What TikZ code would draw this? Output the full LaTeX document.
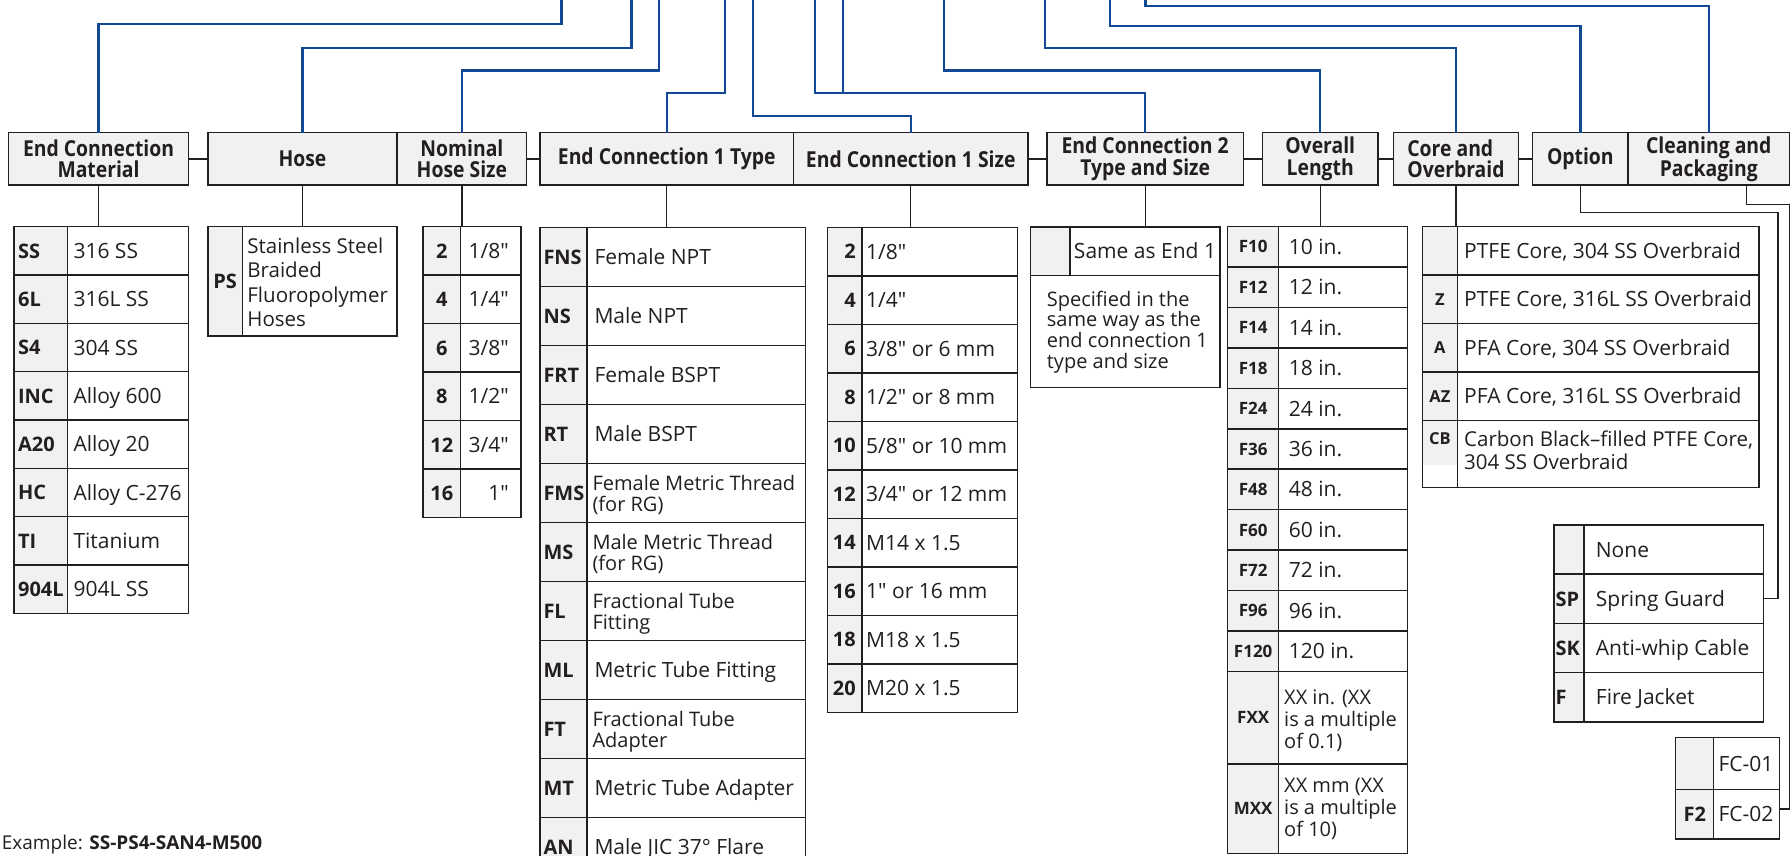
\documentclass[tikz,border=0pt]{standalone}
\usepackage{fontspec}
\setmainfont{Open Sans}[Ligatures=TeXOff]
\newfontfamily\hdrfont{Open Sans}[FakeStretch=0.88, Ligatures=TeXOff]
\definecolor{ink}{RGB}{35,31,32}
\definecolor{pblue}{RGB}{18,72,148}
\definecolor{gfill}{RGB}{241,241,243}
\tikzset{
  hdr/.style={draw=ink, fill=gfill, line width=1.5pt, inner sep=0pt, outer sep=0pt, anchor=north west, align=center, text=ink, minimum height=52.3pt, font=\fontsize{22}{21.6}\selectfont\hdrfont\bfseries},
  tabout/.style={draw=ink, line width=1.5pt, inner sep=0pt, outer sep=0pt, anchor=north west},
  cellbox/.style={draw=ink, line width=1.5pt},
  bl/.style={draw=pblue, line width=2.4pt},
  conn/.style={draw=ink, line width=1.3pt},
  code/.style={inner sep=0pt, text=ink, font=\fontsize{20}{22}\selectfont\bfseries},
  desc/.style={inner sep=0pt, text=ink, font=\fontsize{21}{24}\selectfont},
  descm/.style={inner sep=0pt, text=ink, font=\fontsize{20}{22}\selectfont},
}
\begin{document}
\begin{tikzpicture}[x=1pt,y=-1pt]
\useasboundingbox (0,0) rectangle (1792,855);
\fill[white] (0,0) rectangle (1792,855);
\clip (0,0) rectangle (1792,855);

% ---------- header boxes ----------
\node[hdr, minimum width=180.3pt] (hmat) at (8.4,132.7) {End Connection\\Material};
\node[hdr, minimum width=189.4pt] (hhose) at (207.8,132.7) {Hose};
\node[hdr, minimum width=129.4pt] (hnom) at (397.2,132.7) {Nominal\\Hose Size};
\node[hdr, minimum width=253.5pt] (hect) at (540,132.7) {End Connection 1 Type};
\node[hdr, minimum width=234.5pt] (hecs) at (793.5,132.7) {End Connection 1 Size};
\node[hdr, minimum width=196.4pt] (hec2) at (1047,132.7) {End Connection 2\\Type and Size};
\node[hdr, minimum width=115.6pt] (hlen) at (1262.4,132.7) {Overall\\Length};
\node[hdr, minimum width=124.9pt, align=left] (hcore) at (1393.5,132.7) {Core and\\Overbraid};
\node[hdr, minimum width=95.7pt] (hopt) at (1532.5,132.7) {Option};
\node[hdr, minimum width=161.1pt] (hcln) at (1628.2,132.7) {Cleaning and\\Packaging};

% ---------- blue lines from the part number ----------
\coordinate (p1) at (561.4,-3);
\coordinate (p2) at (631.4,-3);
\coordinate (p3) at (659.2,-3);
\coordinate (p4) at (725.1,-3);
\coordinate (p5) at (752.9,-3);
\coordinate (p6) at (815.1,-3);
\coordinate (p6b) at (842.9,-3);
\coordinate (p7) at (944,-3);
\coordinate (p8) at (1044.8,-3);
\coordinate (p9) at (1109.9,-3);
\coordinate (p10) at (1145.5,-3);
\draw[bl] (p1) -- ++(0,27) -| (hmat.north);
\draw[bl] (p2) -- ++(0,50.7) -| (hhose.north);
\draw[bl] (p3) -- ++(0,73.3) -| (hnom.north);
\draw[bl] (p4) -- ++(0,95.7) -| (hect.north);
\draw[bl] (p5) -- ++(0,119) -| (hecs.north);
\draw[bl] (p6) -- ++(0,95.7) -| (hec2.north);
\draw[bl] (p6b) -- ++(0,95.7);
\draw[bl] (p7) -- ++(0,73.3) -| (hlen.north);
\draw[bl] (p8) -- ++(0,50.7) -| (hcore.north);
\draw[bl] (p9) -- ++(0,29) -| (hopt.north);
\draw[bl] (p10) -- ++(0,9) -| (hcln.north);

% ---------- table: end connection material ----------
\foreach \i/\xc/\xd in {0/SS/316 SS,1/6L/316L SS,2/S4/304 SS,3/INC/Alloy 600,4/A20/Alloy 20,5/HC/Alloy C-276,6/TI/Titanium,7/904L/904L SS}{
  \pgfmathsetmacro\yt{226.7+48.33*\i}
  \pgfmathsetmacro\yb{\yt+48.33}
  \pgfmathsetmacro\ym{\yt+24.17}
  \path[cellbox, fill=gfill] (13.8,\yt) rectangle (67.5,\yb);
  \path[cellbox, fill=white] (67.5,\yt) rectangle (188.7,\yb);
  \node[code, anchor=base west] (matc\i) at (17.9,\ym+7.2) {\xc};
  \node[desc, anchor=base west] (matd\i) at (73.3,\ym+7.5) {\xd};
}
\node[tabout, minimum width=174.9pt, minimum height=386.6pt] (tmat) at (13.8,226.7) {};

% ---------- table: hose ----------
\path[cellbox, fill=gfill] (208,226.7) rectangle (242.4,336);
\path[cellbox, fill=white] (242.4,226.7) rectangle (397,336);
\node[code] (hosc) at (225.2,281.4) {PS};
\foreach \t [count=\k from 0] in {Stainless Steel,Braided,Fluoropolymer,Hoses}{
  \node[desc, font=\fontsize{20.5}{24}\selectfont, anchor=base west] (hosd\k) at (247.2,253.5+24.4*\k) {\t};
}
\node[tabout, minimum width=189pt, minimum height=109.3pt] (thos) at (208,226.7) {};

% ---------- table: nominal hose size ----------
\foreach \i/\xc/\xd in {0/2/{1/8"},1/4/{1/4"},2/6/{3/8"},3/8/{1/2"},4/12/{3/4"},5/16/{1"}}{
  \pgfmathsetmacro\yt{226.7+48.5*\i}
  \pgfmathsetmacro\yb{\yt+48.5}
  \pgfmathsetmacro\ym{\yt+24.25}
  \path[cellbox, fill=gfill] (422.9,\yt) rectangle (460.7,\yb);
  \path[cellbox, fill=white] (460.7,\yt) rectangle (521,\yb);
  \node[code, anchor=base] (nomc\i) at (441.8,\ym+7.2) {\xc};
  \node[desc, anchor=base east] (nomd\i) at (509,\ym+7.5) {\xd};
}
\node[tabout, minimum width=98.1pt, minimum height=291pt] (tnom) at (422.9,226.7) {};

% ---------- table: end connection 1 type ----------
\foreach \i/\xc in {0/FNS,1/NS,2/FRT,3/RT,4/FMS,5/MS,6/FL,7/ML,8/FT,9/MT,10/AN}{
  \pgfmathsetmacro\yt{227.4+59*\i}
  \pgfmathsetmacro\yb{\yt+59}
  \pgfmathsetmacro\ym{\yt+29.5}
  \path[cellbox, fill=gfill] (540,\yt) rectangle (586.8,\yb);
  \path[cellbox, fill=white] (586.8,\yt) rectangle (805.5,\yb);
  \node[code, anchor=base west] (ectc\i) at (543.3,\ym+7.2) {\xc};
}
\foreach \i/\xd in {0/Female NPT,1/Male NPT,2/Female BSPT,3/Male BSPT,7/Metric Tube Fitting,9/Metric Tube Adapter,10/Male JIC 37° Flare}{
  \pgfmathsetmacro\ym{227.4+59*\i+29.5}
  \node[desc, anchor=base west] (ectd\i) at (594.3,\ym+7.5) {\xd};
}
\foreach \i/\xa/\xb in {4/Female Metric Thread/(for RG),5/Male Metric Thread/(for RG),6/Fractional Tube/Fitting,8/Fractional Tube/Adapter}{
  \pgfmathsetmacro\ym{227.4+59*\i+29.5}
  \node[descm, anchor=base west] (ectd\i) at (592.3,\ym-2) {\xa};
  \node[descm, anchor=base west] (ecte\i) at (592.3,\ym+18.5) {\xb};
}
\node[tabout, minimum width=265.5pt, minimum height=649pt] (tect) at (540,227.4) {};

% ---------- table: end connection 1 size ----------
\foreach \i/\xc/\xd in {0/2/{1/8"},1/4/{1/4"},2/6/{3/8" or 6 mm},3/8/{1/2" or 8 mm},4/10/{5/8" or 10 mm},5/12/{3/4" or 12 mm},6/14/{M14 x 1.5},7/16/{1" or 16 mm},8/18/{M18 x 1.5},9/20/{M20 x 1.5}}{
  \pgfmathsetmacro\yt{227.4+48.5*\i}
  \pgfmathsetmacro\yb{\yt+48.5}
  \pgfmathsetmacro\ym{\yt+24.25}
  \path[cellbox, fill=gfill] (827.3,\yt) rectangle (862,\yb);
  \path[cellbox, fill=white] (862,\yt) rectangle (1017.5,\yb);
  \node[code, anchor=base east] (ecsc\i) at (856,\ym+7.2) {\xc};
  \node[desc, anchor=base west] (ecsd\i) at (866,\ym+7.5) {\xd};
}
\node[tabout, minimum width=190.2pt, minimum height=485pt] (tecs) at (827.3,227.4) {};

% ---------- table: end connection 2 ----------
\path[cellbox, fill=gfill] (1030.7,227.2) rectangle (1070,275.5);
\path[cellbox, fill=white] (1070,227.2) rectangle (1220,275.5);
\path[cellbox, fill=white] (1030.7,275.5) rectangle (1220,387.6);
\node[desc, anchor=base] (ec2a) at (1145,258.9) {Same as End 1};
\foreach \t [count=\k from 0] in {Specified in the,same way as the,end connection 1,type and size}{
  \node[descm, anchor=base west] (ec2d\k) at (1046.7,306.1+20.7*\k) {\t};
}
\node[tabout, minimum width=189.3pt, minimum height=160.4pt] (tec2) at (1030.7,227.2) {};

% ---------- table: overall length ----------
\foreach \i/\xc/\xd in {0/F10/10 in.,1/F12/12 in.,2/F14/14 in.,3/F18/18 in.,4/F24/24 in.,5/F36/36 in.,6/F48/48 in.,7/F60/60 in.,8/F72/72 in.,9/F96/96 in.,10/F120/120 in.}{
  \pgfmathsetmacro\yt{226.4+40.47*\i}
  \pgfmathsetmacro\yb{\yt+40.47}
  \pgfmathsetmacro\ym{\yt+20.235}
  \path[cellbox, fill=gfill] (1227.7,\yt) rectangle (1278.7,\yb);
  \path[cellbox, fill=white] (1278.7,\yt) rectangle (1407.7,\yb);
  \node[code, font=\fontsize{17}{19}\selectfont\bfseries, anchor=base] (lenc\i) at (1253.2,\ym+6.1) {\xc};
  \node[desc, anchor=base west] (lend\i) at (1288.7,\ym+7.5) {\xd};
}
\path[cellbox, fill=gfill] (1227.7,671.6) rectangle (1278.7,763.9);
\path[cellbox, fill=white] (1278.7,671.6) rectangle (1407.7,763.9);
\path[cellbox, fill=gfill] (1227.7,763.9) rectangle (1278.7,853.5);
\path[cellbox, fill=white] (1278.7,763.9) rectangle (1407.7,853.5);
\node[code, font=\fontsize{17}{19}\selectfont\bfseries, anchor=base] (lencx) at (1253.2,723.8) {FXX};
\node[code, font=\fontsize{17}{19}\selectfont\bfseries, anchor=base] (lencm) at (1253.2,814.8) {MXX};
\foreach \t [count=\k from 0] in {XX in. (XX,is a multiple,of 0.1)}{
  \node[descm, anchor=base west] (lenx\k) at (1284,704.3+22*\k) {\t};
}
\foreach \t [count=\k from 0] in {XX mm (XX,is a multiple,of 10)}{
  \node[descm, anchor=base west] (lenm\k) at (1284,792.4+22*\k) {\t};
}
\node[tabout, minimum width=180pt, minimum height=627.1pt] (tlen) at (1227.7,226.4) {};

% ---------- table: core and overbraid ----------
\foreach \i/\xc/\xd in {0//{PTFE Core, 304 SS Overbraid},1/Z/{PTFE Core, 316L SS Overbraid},2/A/{PFA Core, 304 SS Overbraid},3/AZ/{PFA Core, 316L SS Overbraid}}{
  \pgfmathsetmacro\yt{226.7+48.4*\i}
  \pgfmathsetmacro\yb{\yt+48.4}
  \pgfmathsetmacro\ym{\yt+24.2}
  \path[cellbox, fill=gfill] (1422.3,\yt) rectangle (1457.4,\yb);
  \path[cellbox, fill=white] (1457.4,\yt) rectangle (1759,\yb);
  \node[code, font=\fontsize{16.5}{18}\selectfont\bfseries, anchor=base] (corc\i) at (1439.85,\ym+5.9) {\xc};
  \node[desc, anchor=base west] (cord\i) at (1464,\ym+7.5) {\xd};
}
\fill[gfill] (1422.3,420.3) rectangle (1457.4,465);
\path[cellbox] (1422.3,420.3) rectangle (1457.4,487.3);
\path[cellbox] (1457.4,420.3) rectangle (1759,487.3);
\node[code, font=\fontsize{16.5}{18}\selectfont\bfseries, anchor=base] (corc4) at (1439.85,444) {CB};
\node[desc, font=\fontsize{20.5}{23}\selectfont, anchor=base west] (cord4) at (1464,446) {Carbon Black–filled PTFE Core,};
\node[desc, font=\fontsize{20.5}{23}\selectfont, anchor=base west] (core4) at (1464,469.5) {304 SS Overbraid};
\node[tabout, minimum width=336.7pt, minimum height=260.6pt] (tcore) at (1422.3,226.7) {};

% ---------- table: option ----------
\foreach \i/\xc/\xd in {0//None,1/SP/Spring Guard,2/SK/Anti-whip Cable,3/F/Fire Jacket}{
  \pgfmathsetmacro\yt{525+49.2*\i}
  \pgfmathsetmacro\yb{\yt+49.2}
  \pgfmathsetmacro\ym{\yt+24.6}
  \path[cellbox, fill=gfill] (1554,\yt) rectangle (1584,\yb);
  \path[cellbox, fill=white] (1584,\yt) rectangle (1763.3,\yb);
  \node[code, anchor=base west] (optc\i) at (1555.5,\ym+7.2) {\xc};
  \node[desc, anchor=base west] (optd\i) at (1595.7,\ym+7.5) {\xd};
}
\node[tabout, minimum width=209.3pt, minimum height=196.8pt] (topt) at (1554,525) {};

% ---------- table: cleaning and packaging ----------
\path[cellbox, fill=gfill] (1675.7,737.7) rectangle (1713.7,789.3);
\path[cellbox, fill=white] (1713.7,737.7) rectangle (1779.3,789.3);
\path[cellbox, fill=gfill] (1675.7,789.3) rectangle (1713.7,839);
\path[cellbox, fill=white] (1713.7,789.3) rectangle (1779.3,839);
\node[desc, anchor=base west] (clnd0) at (1718.3,771) {FC-01};
\node[code, anchor=base] (clnc1) at (1694.7,821.3) {F2};
\node[desc, anchor=base west] (clnd1) at (1718.3,821.6) {FC-02};
\node[tabout, minimum width=103.6pt, minimum height=101.3pt] (tcln) at (1675.7,737.7) {};

% ---------- black connectors ----------
\draw[conn] (hmat.east) -- (hhose.west);
\draw[conn] (hnom.east) -- (hect.west);
\draw[conn] (hecs.east) -- (hec2.west);
\draw[conn] (hec2.east) -- (hlen.west);
\draw[conn] (hlen.east) -- (hcore.west);
\draw[conn] (hcore.east) -- (hopt.west);

\draw[conn] (hmat.south) -- (hmat.south |- tmat.north);
\draw[conn] (hhose.south) -- (hhose.south |- thos.north);
\draw[conn] (hnom.south) -- (hnom.south |- tnom.north);
\draw[conn] (hect.south) -- (hect.south |- tect.north);
\draw[conn] (hecs.south) -- (hecs.south |- tecs.north);
\draw[conn] (hec2.south) -- (hec2.south |- tec2.north);
\draw[conn] (hlen.south) -- (hlen.south |- tlen.north);
\draw[conn] (hcore.south) -- (hcore.south |- tcore.north);

\coordinate (optbend) at (1778,212.5);
\coordinate (optin) at (1763.3,598.4);
\draw[conn] (hopt.south) |- (optbend) |- (optin);
\coordinate (clnout) at (1746.7,185);
\coordinate (clnbend) at (1789.5,204.5);
\coordinate (clnin) at (1779.3,809);
\draw[conn] (clnout) |- (clnbend) |- (clnin);

% ---------- example ----------
\node[anchor=base west, inner sep=0pt, text=ink, font=\fontsize{19}{22}\selectfont] (ex) at (1.7,849.3) {Example: \textbf{SS-PS4-SAN4-M500}};
\end{tikzpicture}
\end{document}
